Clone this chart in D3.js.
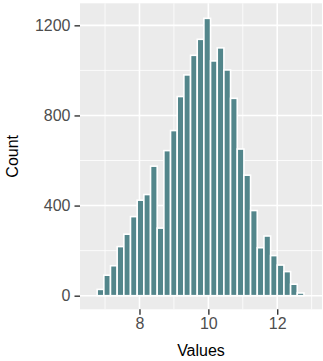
<!DOCTYPE html>
<html><head><meta charset="utf-8">
<script src="https://cdn.jsdelivr.net/npm/d3@7"></script>
<style>html,body{margin:0;padding:0;background:#fff;}svg{display:block;}</style>
</head><body>
<script>
// Bin centres (Values) and counts
const binCenters = [6.868, 7.062, 7.255, 7.449, 7.643, 7.836, 8.030, 8.224, 8.418, 8.611,
  8.805, 8.999, 9.192, 9.386, 9.580, 9.774, 9.967, 10.161, 10.355, 10.548,
  10.742, 10.936, 11.129, 11.323, 11.517, 11.711, 11.904, 12.098, 12.292, 12.485, 12.679];
const counts = [28, 91, 133, 218, 273, 351, 424, 449, 575, 300,
  644, 733, 884, 980, 1067, 1138, 1231, 1042, 1100, 1002,
  876, 651, 535, 378, 213, 265, 178, 136, 107, 51, 12];
const binWidth = 0.1937;
const xTicks = [8, 10, 12];
const xMinor = [7, 9, 11, 13];
const yTicks = [0, 400, 800, 1200];
const yMinor = [200, 600, 1000];
const xLabel = "Values";
const yLabel = "Count";

const W = 323, H = 361;
const panel = {left: 80, right: 322, top: 3.3, bottom: 309.3};
const svg = d3.select("body").append("svg").attr("width", W).attr("height", H);
const font = "'Liberation Sans', Arial, Helvetica, sans-serif";

const x = d3.scaleLinear().domain([6.273, 13.30]).range([panel.left, panel.right]);
const y = d3.scaleLinear().domain([-60.4, 1297.8]).range([panel.bottom, panel.top]);

svg.append("rect").attr("x", panel.left).attr("y", panel.top)
  .attr("width", panel.right - panel.left).attr("height", panel.bottom - panel.top)
  .attr("fill", "#EBEBEB");

const g = svg.append("g");
g.selectAll("line.ym").data(yMinor).join("line")
  .attr("x1", panel.left).attr("x2", panel.right)
  .attr("y1", d => y(d)).attr("y2", d => y(d))
  .attr("stroke", "#fff").attr("stroke-width", 0.8);
g.selectAll("line.xm").data(xMinor).join("line")
  .attr("y1", panel.top).attr("y2", panel.bottom)
  .attr("x1", d => x(d)).attr("x2", d => x(d))
  .attr("stroke", "#fff").attr("stroke-width", 0.8);
g.selectAll("line.yM").data(yTicks).join("line")
  .attr("x1", panel.left).attr("x2", panel.right)
  .attr("y1", d => y(d)).attr("y2", d => y(d))
  .attr("stroke", "#fff").attr("stroke-width", 1.6);
g.selectAll("line.xM").data(xTicks).join("line")
  .attr("y1", panel.top).attr("y2", panel.bottom)
  .attr("x1", d => x(d)).attr("x2", d => x(d))
  .attr("stroke", "#fff").attr("stroke-width", 1.6);

const data = binCenters.map((c, i) => ({c, n: counts[i]}));
svg.append("g").selectAll("rect").data(data).join("rect")
  .attr("x", d => x(d.c - binWidth / 2))
  .attr("width", d => x(d.c + binWidth / 2) - x(d.c - binWidth / 2))
  .attr("y", d => y(d.n))
  .attr("height", d => y(0) - y(d.n))
  .attr("fill", "#53868B")
  .attr("stroke", "#fff").attr("stroke-width", 1.6);

// Axes
const xAxis = d3.axisBottom(x).tickValues(xTicks).tickSize(5.5).tickPadding(3).tickFormat(d3.format("d"));
const xa = svg.append("g").attr("transform", `translate(0,${panel.bottom})`).call(xAxis);
xa.select(".domain").remove();
xa.selectAll("line").attr("stroke", "#333").attr("stroke-width", 1.4);
xa.selectAll("text").attr("fill", "#4D4D4D").attr("font-size", 16).attr("font-family", font);

const yAxis = d3.axisLeft(y).tickValues(yTicks).tickSize(5.5).tickPadding(4).tickFormat(d3.format("d"));
const ya = svg.append("g").attr("transform", `translate(${panel.left},0)`).call(yAxis);
ya.select(".domain").remove();
ya.selectAll("line").attr("stroke", "#333").attr("stroke-width", 1.4);
ya.selectAll("text").attr("fill", "#4D4D4D").attr("font-size", 16).attr("font-family", font);

svg.append("text").attr("x", (panel.left + panel.right) / 2).attr("y", 355.5)
  .attr("text-anchor", "middle").attr("font-size", 16).attr("font-family", font)
  .attr("fill", "#000").text(xLabel);
svg.append("text").attr("transform", `translate(18.3,${(panel.top + panel.bottom) / 2}) rotate(-90)`)
  .attr("text-anchor", "middle").attr("font-size", 16).attr("font-family", font)
  .attr("fill", "#000").text(yLabel);
</script>
</body></html>
